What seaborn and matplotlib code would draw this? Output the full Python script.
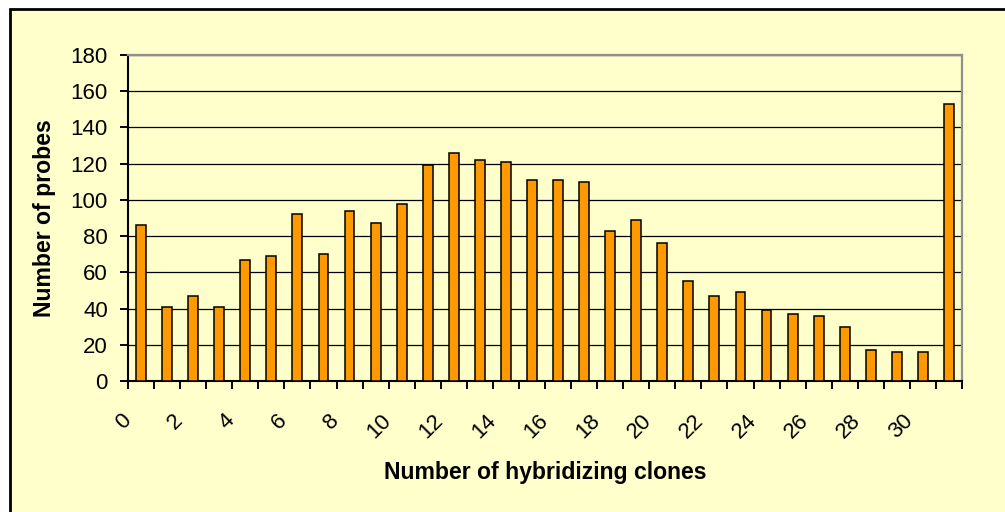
import numpy as np
import pandas as pd
import matplotlib
matplotlib.use("Agg")
import matplotlib.pyplot as plt
import matplotlib.transforms as mtransforms
from matplotlib.patches import Rectangle
import seaborn as sns

# data
clones = list(range(32))
probes = [86, 41, 47, 41, 67, 69, 92, 70, 94, 87, 98, 119, 126, 122, 121, 111,
          111, 110, 83, 89, 76, 55, 47, 49, 39, 37, 36, 30, 17, 16, 16, 153]
y_ticks = list(range(0, 181, 20))
x_label_pos = [c for c in clones if c % 2 == 0]
x_labels = [str(c) for c in x_label_pos]

BG = "#FFFFCC"
BAR = "#FF9900"

plt.rcParams["font.family"] = ["Liberation Sans", "DejaVu Sans"]

W, H = 1005, 512
fig = plt.figure(figsize=(W / 100, H / 100), dpi=100, facecolor="white")

# chart area frame (black top/left edge, yellow fill)
fig.patches.append(Rectangle((10 / W, -0.1), 1.2, 1.1 - 9 / H,
                             transform=fig.transFigure, facecolor=BG,
                             edgecolor="black", linewidth=2, zorder=-10))

ax = fig.add_axes([128 / W, 1 - 381 / H, (962 - 128) / W, (381 - 55) / H])
ax.set_zorder(1)
ax.set_facecolor(BG)

df = pd.DataFrame({"clones": clones, "probes": probes})
sns.barplot(data=df, x="clones", y="probes", color=BAR, saturation=1,
            width=0.38, edgecolor="black", linewidth=1.1, ax=ax, zorder=3)

ax.set_xlim(-0.5, len(clones) - 0.5)
ax.set_ylim(0, 180)
ax.set_yticks(y_ticks)
ax.yaxis.grid(True, color="black", linewidth=0.9)
ax.xaxis.grid(False)
ax.set_axisbelow(True)

# ticks on category boundaries, labels on even categories
bounds = np.arange(len(clones) + 1) - 0.5
ax.set_xticks(bounds, labels=[""] * len(bounds))
ax.set_xticks(x_label_pos, labels=x_labels, minor=True, rotation=45, ha="right")
ax.tick_params(axis="x", which="major", length=6, width=1.4, direction="out", color="black")
ax.tick_params(axis="x", which="minor", length=0, pad=21, labelsize=16)
shift = mtransforms.ScaledTranslation(-6 / 100, 0, fig.dpi_scale_trans)
for lbl in ax.get_xticklabels(minor=True):
    lbl.set_transform(lbl.get_transform() + shift)

ax.tick_params(axis="y", length=6, width=1.4, pad=8.4, labelsize=16, color="black")

for side in ["left", "bottom"]:
    ax.spines[side].set_color("black")
    ax.spines[side].set_linewidth(1.5)
for side in ["top", "right"]:
    ax.spines[side].set_color("#909090")
    ax.spines[side].set_linewidth(1.6)

ax.set_xlabel("Number of hybridizing clones", fontsize=16.6, fontweight="bold")
ax.xaxis.set_label_coords(0.5, -0.245)
ax.set_ylabel("Number of probes", fontsize=16.6, fontweight="bold")
ax.yaxis.set_label_coords(-0.0863, 0.5)

fig.savefig("out.png", dpi=100, facecolor=fig.get_facecolor())
